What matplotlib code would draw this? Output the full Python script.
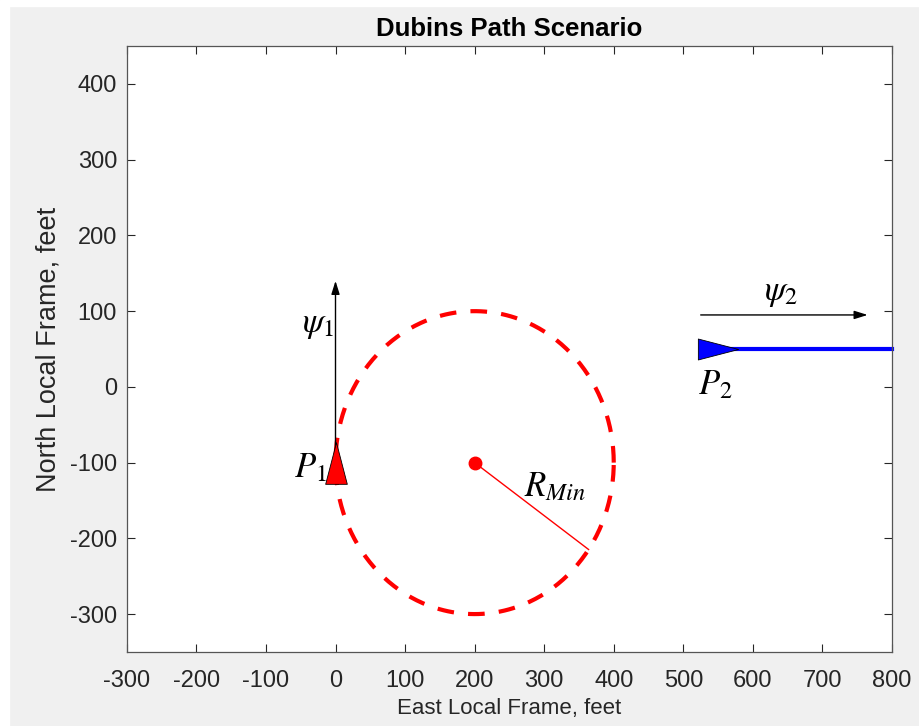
import numpy as np
import matplotlib
matplotlib.use('Agg')
import matplotlib.pyplot as plt
from matplotlib.path import Path
from matplotlib.patches import Rectangle

plt.rcParams['font.family'] = ['Liberation Sans', 'DejaVu Sans']
plt.rcParams['mathtext.fontset'] = 'stix'
plt.rcParams['axes.unicode_minus'] = False

# scenario values (feet)
x_ticks = [-300, -200, -100, 0, 100, 200, 300, 400, 500, 600, 700, 800]
y_ticks = [-300, -200, -100, 0, 100, 200, 300, 400]

p1 = (0, -100)
p2 = (550, 50)
turn_center = (200, -100)
r_min = 200
r_angle = -35  # degrees, direction of the radius line

psi1_arrow = [(0, -100), (0, 140)]
psi2_arrow = [(525, 95), (765, 95)]
exit_path_x = [550, 800]
exit_path_y = [50, 50]

grey = '#262626'

fig = plt.figure(figsize=(9.19, 7.26), dpi=100, facecolor='#f0f0f0')
fig.add_artist(Rectangle((0, 0.992), 1, 0.008, transform=fig.transFigure, color='white', zorder=-1))
fig.add_artist(Rectangle((0, 0), 0.01, 1, transform=fig.transFigure, color='white', zorder=-1))
ax = fig.add_axes([0.138, 0.102, 0.8326, 0.8345])

# dashed turn circle
th = np.linspace(0, 2 * np.pi, 400)
ax.plot(turn_center[0] + r_min * np.cos(th), turn_center[1] + r_min * np.sin(th),
        color='red', lw=3, dashes=(4, 3.4), zorder=2)
ax.plot(*turn_center, 'o', color='red', ms=9, zorder=3)
a = np.deg2rad(r_angle)
ax.plot([turn_center[0], turn_center[0] + r_min * np.cos(a)],
        [turn_center[1], turn_center[1] + r_min * np.sin(a)], color='red', lw=1, zorder=2)

# exit path
ax.plot(exit_path_x, exit_path_y, color='blue', lw=3, zorder=2, clip_on=False)

# heading arrows
ax.annotate('', xy=psi1_arrow[1], xytext=psi1_arrow[0],
            arrowprops=dict(arrowstyle='-|>,head_length=0.8,head_width=0.25', color='black', lw=1, shrinkA=0, shrinkB=0), zorder=3)
ax.annotate('', xy=psi2_arrow[1], xytext=psi2_arrow[0],
            arrowprops=dict(arrowstyle='-|>,head_length=0.8,head_width=0.25', color='black', lw=1, shrinkA=0, shrinkB=0), zorder=3)

# aircraft markers (narrow triangles)
tri_up = Path([(0, 1), (-0.52, -1), (0.52, -1), (0, 1)], closed=True)
tri_right = Path([(1, 0), (-1, 0.52), (-1, -0.52), (1, 0)], closed=True)
ax.plot(*p1, marker=tri_up, ms=30, color='red', mec='black', mew=0.6, zorder=4)
ax.plot(*p2, marker=tri_right, ms=29, color='blue', mec='black', mew=0.6, zorder=4)

# labels
fs = 25
ax.text(-3, 82, r'$\psi_1$', fontsize=fs, ha='right', va='center')
ax.text(640, 124, r'$\psi_2$', fontsize=fs, ha='center', va='center')
ax.text(-12, -107, r'$P_1$', fontsize=fs, ha='right', va='center')
ax.text(546, 3, r'$P_2$', fontsize=fs, ha='center', va='center')
ax.text(315, -132, r'$R_{Min}$', fontsize=fs, ha='center', va='center')

ax.set_xlim(-300, 800)
ax.set_ylim(-350, 450)
ax.set_xticks(x_ticks)
ax.set_yticks(y_ticks)
ax.tick_params(direction='in', top=True, right=True, length=6, width=0.8,
               colors=grey, labelsize=17)
ax.tick_params(axis='x', pad=13)
ax.tick_params(axis='y', pad=7)
for s in ax.spines.values():
    s.set_color('#555555')
    s.set_linewidth(0.9)

ax.set_title('Dubins Path Scenario', fontsize=18.5, fontweight='bold', color='black', pad=7)
ax.set_xlabel('East Local Frame, feet', fontsize=16, color=grey, labelpad=4)
ax.set_ylabel('North Local Frame, feet', fontsize=19.5, color=grey, labelpad=6)

fig.savefig('out.png', dpi=100, facecolor=fig.get_facecolor())
